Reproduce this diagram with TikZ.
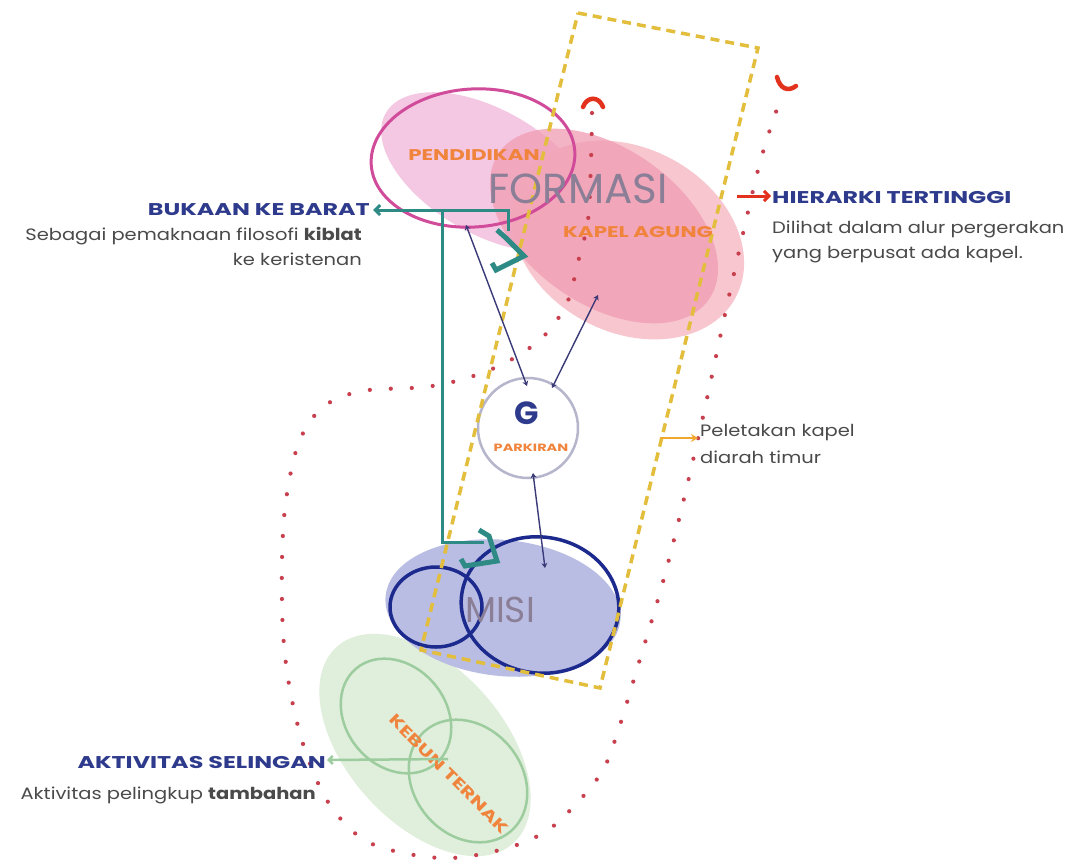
\documentclass[tikz,border=0pt]{standalone}
\usepackage{fontspec}
\setmainfont{Poppins}
\newfontfamily\headfont[FakeStretch=1.4]{Poppins}
\newfontfamily\bodyfont[FakeStretch=1.18]{Poppins}
\newfontfamily\zonefont[FakeStretch=1.38]{Poppins}
\usetikzlibrary{arrows.meta}
\definecolor{ydash}{HTML}{E3BE3C}
\definecolor{reddot}{HTML}{C8404E}
\definecolor{redmark}{HTML}{E2321E}
\definecolor{tealc}{HTML}{2E8A84}
\definecolor{navyt}{HTML}{2E3A8C}
\definecolor{orangec}{HTML}{F0843C}
\definecolor{grayt}{HTML}{4A4A4A}
\definecolor{magentac}{HTML}{D14B9B}
\definecolor{pinkpale}{HTML}{F4C8E2}
\definecolor{pinklight}{HTML}{F8C6CF}
\definecolor{pinkkapel}{HTML}{F09CB2}
\definecolor{lavfill}{HTML}{B9BDE3}
\definecolor{darkblue}{HTML}{1C2A8E}
\definecolor{greenfill}{HTML}{E0EEDC}
\definecolor{greenline}{HTML}{9DCC9F}
\definecolor{parkc}{HTML}{B5B5CC}
\definecolor{formasic}{HTML}{8A7F97}
\definecolor{navyline}{HTML}{3A3A78}
\definecolor{yarrow}{HTML}{F0A830}
\begin{document}
\begin{tikzpicture}[x=1pt,y=-1pt,
  heading/.style={text=navyt,font=\headfont\fontsize{17}{19}\selectfont\bfseries,inner sep=0pt},
  bodytxt/.style={text=grayt,font=\bodyfont\fontsize{16.5}{19}\selectfont,inner sep=0pt},
  zonelabel/.style={text=orangec,font=\zonefont\fontsize{15.5}{17}\selectfont\bfseries,inner sep=0pt},
  bigword/.style={font=\fontsize{42}{46}\selectfont,inner sep=0pt},
  dotpath/.style={reddot,line width=4.2pt,line cap=round,dash pattern=on 0pt off 21pt},
  tealpath/.style={tealc,line width=3pt},
  tealmark/.style={tealc,line width=5pt,line join=miter},
  navyarrow/.style={navyline,line width=1.4pt,{Stealth[length=5pt,width=6pt]}-{Stealth[length=5pt,width=6pt]}},
  blueline/.style={darkblue,line width=3.5pt}
]
\useasboundingbox (0,0) rectangle (1075,865);
\fill[white] (0,0) rectangle (1075,865);

% green area
\fill[greenfill,rotate around={-48:(425,745)}] (425,745) ellipse (132 and 78);
\draw[greenline,line width=2.5pt,rotate around={-50:(396,716)}] (396,716) ellipse (62 and 50);
\draw[greenline,line width=2.5pt,rotate around={-50:(468,781)}] (468,781) ellipse (66 and 54);

% pink areas
\fill[pinkpale,rotate around={-30:(488,172)}] (488,172) ellipse (118 and 62);
\fill[pinklight,rotate around={-28:(628,240)}] (628,240) ellipse (122 and 92);
\fill[pinkkapel,opacity=0.75,rotate around={-35:(604,226)}] (604,226) ellipse (128 and 78);
\draw[magentac,line width=3pt,rotate around={4:(473,158)}] (473,158) ellipse (102 and 69);

% misi
\fill[lavfill,rotate around={-6:(503,608)}] (503,608) ellipse (118 and 68);
\draw[blueline] (436,607) ellipse (46 and 40);
\draw[blueline,rotate around={-8:(540,605)}] (540,605) ellipse (79 and 68);

% parkiran
\draw[parkc,line width=2.5pt] (528,428) circle (50);

% red dotted loop
\draw[dotpath] plot[smooth,tension=0.55] coordinates {(592,113) (591,160) (588,220) (578,262) (567,303) (543,337) (507,362) (467,378) (425,387) (362,391) (323,407) (299,442) (286,500) (282,560) (283,632) (290,690) (305,750) (330,805) (370,843) (440,858) (500,850) (545,832) (577,803) (603,770) (618,731) (637,669) (667,567) (700,430) (729,296) (758,170) (777,109)};
\draw[redmark,line width=4.5pt,line cap=round] (583,107) .. controls (587,96) and (599,96) .. (603,107);
\draw[redmark,line width=4.5pt,line cap=round] (777,77) .. controls (780,89) and (788,92) .. (796,86);

% yellow dashed rectangle
\draw[ydash,line width=3.5pt,dash pattern=on 9pt off 6pt] (578,13) -- (758,48) -- (600,688) -- (421,650) -- cycle;

% teal connectors
\coordinate (tA) at (373,210);
\coordinate (tB) at (508,210);
\coordinate (tC) at (508,231);
\coordinate (tV) at (442,210);
\coordinate (tD) at (442,542);
\coordinate (tE) at (484,542);
\draw[tealpath,-{Straight Barb[length=5pt,width=10pt]}] (tC) -- (tB) -- (tA);
\draw[tealpath] (tV) -- (tD) -- (tE);
\draw[tealmark] (497,230) -- (506,238) -- (524,256) -- (496,270) -- (492,263);
\draw[tealmark] (479,530) -- (489,536) -- (497,561) -- (465,566) -- (461,559);

% navy arrows
\coordinate (n1a) at (466,225);
\coordinate (n1b) at (527,386);
\coordinate (n2a) at (598,295);
\coordinate (n2b) at (552,388);
\coordinate (n3a) at (533,473);
\coordinate (n3b) at (545,568);
\draw[navyarrow] (n1a) -- (n1b);
\draw[navyarrow] (n2a) -- (n2b);
\draw[navyarrow] (n3a) -- (n3b);

% labels inside zones
\node[zonelabel] (pend) at (474,155) {PENDIDIKAN};
\node[bigword,text=formasic] (formasi) at (578,189) {FORMASI};
\node[zonelabel] (kapel) at (638,232) {KAPEL AGUNG};
\node[text=navyt,font=\fontsize{32}{34}\selectfont\bfseries,inner sep=0pt] (g) at (527,413) {G};
\node[zonelabel,font=\zonefont\fontsize{10.5}{12}\selectfont\bfseries] (park) at (531,448) {PARKIRAN};
\node[bigword,text=formasic,font=\fontsize{36}{40}\selectfont] (misi) at (500,610) {MISI};
\node[zonelabel,rotate=-45] (kebun) at (449,774) {KEBUN TERNAK};

% outside texts
\node[heading,anchor=east] (bukaan) at (370,210) {BUKAAN KE BARAT};
\node[bodytxt,anchor=east] (seb1) at (362,236) {Sebagai pemaknaan filosofi \textbf{kiblat}};
\node[bodytxt,anchor=east] (seb2) at (362,259) {ke keristenan};

\coordinate (r1) at (737,196);
\coordinate (r2) at (771,196);
\draw[redmark,line width=3pt,-{Straight Barb[length=5pt,width=10pt]}] (r1) -- (r2);
\node[heading,anchor=west] (hier) at (772,198) {HIERARKI TERTINGGI};
\node[bodytxt,anchor=west] (dil1) at (772,229) {Dilihat dalam alur pergerakan};
\node[bodytxt,anchor=west] (dil2) at (772,255) {yang berpusat ada kapel.};

\coordinate (o1) at (660,438);
\coordinate (o2) at (698,438);
\draw[yarrow,line width=2.5pt,-{Stealth[length=7pt,width=8pt]}] (o1) -- (o2);
\node[bodytxt,anchor=west] (pel1) at (700,433) {Peletakan kapel};
\node[bodytxt,anchor=west] (pel2) at (700,457) {diarah timur};

\coordinate (g2) at (448,759);
\coordinate (g1) at (327,760);
\draw[greenline,line width=2.5pt,-{Straight Barb[length=4pt,width=8pt]}] (g2) -- (g1);
\node[heading,anchor=east] (akt) at (326,762) {AKTIVITAS SELINGAN};
\node[bodytxt,anchor=east] (akt2) at (316,795) {Aktivitas pelingkup \textbf{tambahan}};
\end{tikzpicture}
\end{document}
